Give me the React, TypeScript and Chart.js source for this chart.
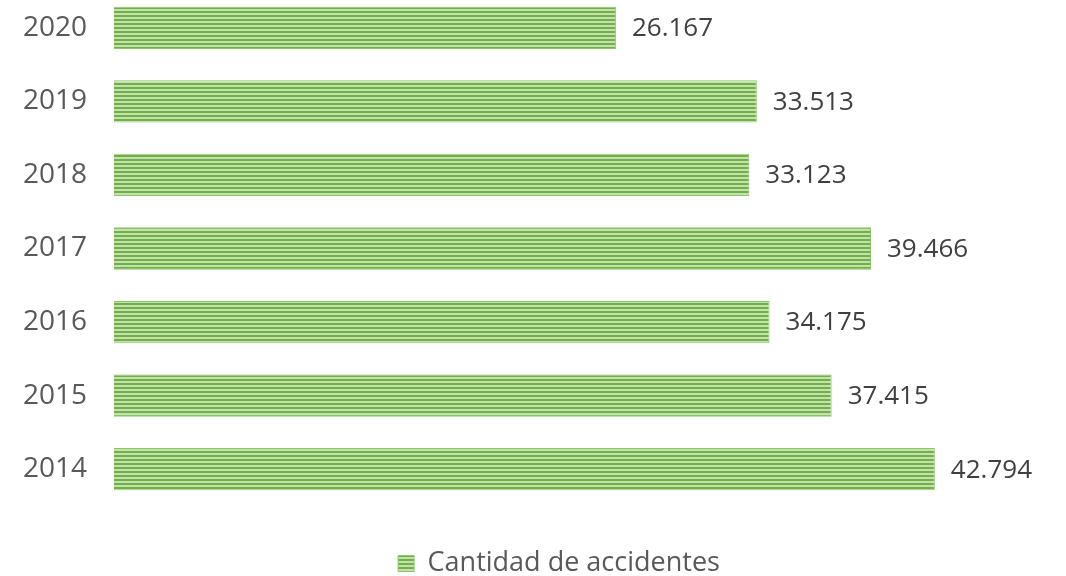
import React, { useEffect, useRef } from "react";
import { Chart, registerables } from "chart.js";

Chart.register(...registerables);

const years = ["2020", "2019", "2018", "2017", "2016", "2015", "2014"];
const accidents = [26167, 33513, 33123, 39466, 34175, 37415, 42794];
const seriesLabel = "Cantidad de accidentes";

function formatNum(v: number): string {
  return v.toString().replace(/\B(?=(\d{3})+(?!\d))/g, ".");
}

function makePattern(): CanvasPattern | string {
  const c = document.createElement("canvas");
  c.width = 4;
  c.height = 4;
  const ctx = c.getContext("2d");
  if (!ctx) return "#70ad47";
  ctx.fillStyle = "#c3e1ae";
  ctx.fillRect(0, 0, 4, 4);
  ctx.fillStyle = "#70b046";
  ctx.fillRect(0, 0, 4, 2);
  const p = ctx.createPattern(c, "repeat");
  return p || "#70ad47";
}

const valueLabels = {
  id: "valueLabels",
  afterDatasetsDraw(chart: any) {
    const ctx = chart.ctx;
    const meta = chart.getDatasetMeta(0);
    ctx.save();
    ctx.font = "26px 'Open Sans'";
    ctx.fillStyle = "#404040";
    ctx.textAlign = "left";
    ctx.textBaseline = "middle";
    meta.data.forEach((bar: any, i: number) => {
      ctx.fillText(formatNum(accidents[i]), bar.x + 16, bar.y + 1);
    });
    ctx.restore();
  },
};

export default function App() {
  const ref = useRef<HTMLCanvasElement>(null);
  useEffect(() => {
    if (!ref.current) return;
    const pattern = makePattern();
    const chart = new Chart(ref.current, {
      type: "bar",
      data: {
        labels: years,
        datasets: [
          {
            label: seriesLabel,
            data: accidents,
            backgroundColor: pattern as any,
            borderColor: "#8cc46a",
            borderWidth: 1,
            categoryPercentage: 1,
            barPercentage: 0.575,
          },
        ],
      },
      options: {
        indexAxis: "y",
        animation: false,
        responsive: false,
        maintainAspectRatio: false,
        layout: { padding: { left: 0, right: 62, top: 0, bottom: 0 } },
        scales: {
          x: { display: false, min: 0, max: 46400 },
          y: {
            grid: { display: false, drawTicks: false },
            border: { display: false },
            ticks: {
              font: { family: "'Open Sans'", size: 28 },
              color: "#595959",
              padding: 27,
            },
            afterFit(scale: any) {
              scale.width = 114;
              scale.paddingTop = 0;
              scale.paddingBottom = 0;
            },
          },
        },
        plugins: {
          tooltip: { enabled: false },
          legend: {
            position: "bottom",
            fullSize: false,
            labels: {
              font: { family: "'Open Sans'", size: 27 },
              color: "#595959",
              boxWidth: 16,
              boxHeight: 16,
              padding: 44,
            },
          },
        },
      },
      plugins: [valueLabels],
    });
    return () => chart.destroy();
  }, []);
  return (
    <div style={{ position: "fixed", left: 0, top: 0, width: 1066, height: 576, overflow: "hidden", background: "#fff" }}>
      <div style={{ position: "absolute", left: 0, top: -9, width: 1066, height: 596 }}>
        <canvas ref={ref} width={1066} height={596} style={{ width: 1066, height: 596 }} />
      </div>
    </div>
  );
}
